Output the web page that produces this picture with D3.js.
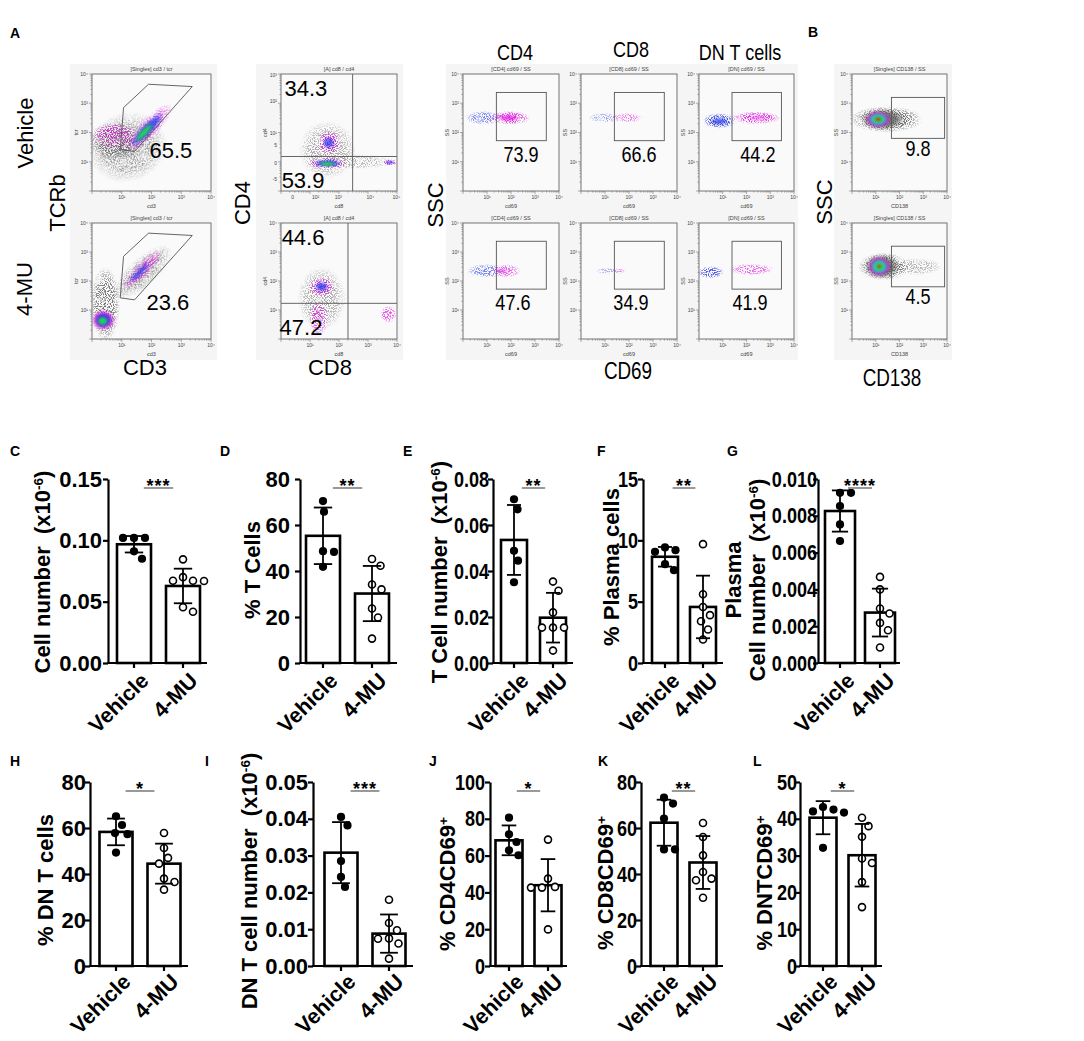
<!DOCTYPE html>
<html>
<head>
<meta charset="UTF-8">
<title>4-MU T cell and plasma cell figure</title>
<script src="https://cdn.jsdelivr.net/npm/d3@7"></script>
<style>
  body { margin: 0; background: #fff; }
  text { font-family: "Liberation Sans", Arial, sans-serif; }
</style>
</head>
<body>
<script>
// ---------- bar chart data (panels C-L) ----------
var groups = ["Vehicle", "4-MU"];
var panelIds = ["C", "D", "E", "F", "G", "H", "I", "J", "K", "L"];
var yMax = [0.15, 80, 0.08, 15, 0.010, 80, 0.05, 100, 80, 50];
var yTicks = [
  [0, 0.05, 0.10, 0.15],
  [0, 20, 40, 60, 80],
  [0, 0.02, 0.04, 0.06, 0.08],
  [0, 5, 10, 15],
  [0, 0.002, 0.004, 0.006, 0.008, 0.010],
  [0, 20, 40, 60, 80],
  [0, 0.01, 0.02, 0.03, 0.04, 0.05],
  [0, 20, 40, 60, 80, 100],
  [0, 20, 40, 60, 80],
  [0, 10, 20, 30, 40, 50]
];
var yDigits = [2, 0, 2, 0, 3, 0, 2, 0, 0, 0];
var yTitles = [
  "Cell number  (x10^{-6})",
  "% T Cells",
  "T Cell number  (x10^{-6})",
  "% Plasma cells",
  "Plasma|Cell number  (x10^{-6})",
  "% DN T cells",
  "DN T cell number  (x10^{-6})",
  "% CD4CD69^{+}",
  "% CD8CD69^{+}",
  "% DNTCD69^{+}"
];
var stars = ["***", "**", "**", "**", "****", "*", "***", "*", "**", "*"];

var vehMean = [0.0968, 55.3, 0.0535, 8.66, 0.00826, 58.3, 0.0308, 68.3, 62.3, 40.3];
var vehSd   = [0.0067, 12.3, 0.0152, 0.80, 0.00112, 5.8, 0.0083, 8.1, 10.0, 4.5];
var muMean  = [0.0628, 30.2, 0.0197, 4.57, 0.00274, 44.5, 0.0088, 43.9, 45.0, 30.1];
var muSd    = [0.0141, 12.0, 0.0108, 2.55, 0.00130, 8.7, 0.0052, 14.2, 11.5, 8.5];

var vehPts = [
  [0.102, 0.102, 0.102, 0.091, 0.085],
  [70.4, 65.8, 48.6, 48.3, 41.8],
  [0.0712, 0.0668, 0.0488, 0.0445, 0.0351],
  [9.42, 9.2, 9.06, 8.06, 7.57],
  [0.00925, 0.00925, 0.00853, 0.00753, 0.00663],
  [65.1, 61.3, 57.8, 57.3, 49.3],
  [0.0405, 0.0382, 0.0285, 0.0242, 0.0215],
  [80.6, 71.6, 67.4, 62.9, 60.2],
  [73.2, 70.6, 64.1, 50.7, 50.7],
  [43.2, 42.5, 42.0, 41.7, 32.1]
];
var muPts = [
  [0.0845, 0.070, 0.067, 0.067, 0.0668, 0.0454, 0.0418],
  [45.2, 42.3, 34.1, 32.0, 23.7, 19.8, 10.6],
  [0.0354, 0.0314, 0.022, 0.0154, 0.0154, 0.0154, 0.0054],
  [9.69, 5.61, 4.57, 3.9, 3.4, 2.73, 1.91],
  [0.00468, 0.0040, 0.00296, 0.00269, 0.00218, 0.00178, 0.00084],
  [57.8, 51.3, 47.0, 44.5, 38.0, 36.5, 33.2],
  [0.018, 0.0117, 0.0097, 0.0075, 0.0074, 0.0061, 0.002],
  [68.7, 47.5, 43.0, 42.6, 42.6, 19.9],
  [62.2, 56.1, 48.1, 40.9, 38.0, 37.3, 29.7],
  [40.3, 38.0, 35.1, 29.2, 28.0, 22.8, 16.0]
];

// ---------- flow cytometry data (panels A, B) ----------
var flowTitles = ["[Singles] cd3 / tcr", "[A] cd8 / cd4", "[CD4] cd69 / SS", "[CD8] cd69 / SS", "[DN] cd69 / SS", "[Singles] CD138 / SS"];
var flowXLab = ["cd3", "cd8", "cd69", "cd69", "cd69", "CD138"];
var flowYLab = ["tcr", "cd4", "SS", "SS", "SS", "SS"];
var vehPct = [["65.5"], ["34.3", "53.9"], ["73.9"], ["66.6"], ["44.2"], ["9.8"]];
var muPct  = [["23.6"], ["44.6", "47.2"], ["47.6"], ["34.9"], ["41.9"], ["4.5"]];
var logTickPos = [1, 2, 3, 4];
var logTickLab = ["10\u00b9", "10\u00b2", "10\u00b3", "10\u2074"];
var cd8TickPos = [0.4, 1.19, 1.98, 3.08, 3.98];
var cd8TickLab = ["0", "10\u00b2", "10\u00b3", "10\u2074", "10\u2075"];
var cd4TickPos = [3.97, 3.06, 1.98, 1.58, 0.95, 0.39];
var cd4TickLab = ["10\u00b3", "10\u00b2", "10\u00b9", "5", "0", "-5"];
var tcrGate = [[1.06, 2.85], [1.90, 3.65], [3.37, 3.57], [1.43, 1.35], [0.95, 1.42]];
var vehQuad = [2.47, 1.18];
var muQuad = [2.31, 1.23];
var cd69Gate = [1.39, 3.47, 1.72, 3.37];
var cd138Gate = [1.66, 3.90, 1.80, 3.20];
// clusters: [u, v, ru, rv, rotation, colour, opacity, speckled]
var vehClusters = [
  [[1.2, 1.5, 1.35, 1.2, 20, "g", 0.7, 1], [0.75, 1.7, 0.85, 0.68, 0, "g", 0.9, 1], [0.75, 1.9, 0.75, 0.45, 0, "m", 0.85, 1],
   [1.9, 2.15, 1.1, 0.34, 46, "m", 1, 1], [1.85, 2.1, 0.8, 0.2, 46, "b", 0.95, 0], [1.75, 2.0, 0.45, 0.12, 46, "n", 1, 0]],
  [[1.6, 1.4, 1.0, 1.0, 0, "g", 0.55, 1], [2.6, 1.0, 1.3, 0.25, 0, "g", 0.45, 1], [1.65, 1.65, 0.42, 0.4, 0, "m", 1, 1],
   [1.65, 1.65, 0.22, 0.22, 0, "b", 0.8, 0], [1.6, 0.95, 0.7, 0.2, 0, "m", 1, 1], [1.6, 0.95, 0.5, 0.13, 0, "b", 0.95, 0],
   [1.6, 0.93, 0.32, 0.08, 0, "n", 1, 0], [3.72, 0.98, 0.32, 0.11, 0, "m", 1, 1], [3.75, 0.98, 0.16, 0.06, 0, "b", 0.9, 0]],
  [[0.85, 2.5, 0.75, 0.24, 0, "lb", 1, 1], [1.95, 2.5, 0.85, 0.24, 0, "m", 1, 1], [1.9, 2.5, 0.45, 0.12, 0, "m", 0.8, 0]],
  [[0.95, 2.5, 0.65, 0.17, 0, "lb", 0.75, 1], [1.9, 2.5, 0.7, 0.17, 0, "lm", 0.85, 1]],
  [[0.85, 2.4, 0.7, 0.27, 0, "b", 1, 1], [0.85, 2.38, 0.4, 0.14, 0, "b", 0.75, 0], [2.4, 2.5, 1.05, 0.22, 0, "m", 1, 1],
   [2.5, 2.5, 0.5, 0.1, 0, "lm", 0.6, 0]],
  [[1.45, 2.45, 1.55, 0.45, 0, "g", 1, 1], [1.3, 2.45, 0.95, 0.36, 0, "g", 0.9, 0], [1.1, 2.45, 0.55, 0.3, 0, "m", 1, 0],
   [1.1, 2.45, 0.42, 0.23, 0, "c", 1, 0], [1.1, 2.45, 0.3, 0.16, 0, "n", 1, 0], [1.1, 2.45, 0.13, 0.08, 0, "r", 1, 0]]
];
var muClusters = [
  [[0.45, 1.2, 0.5, 1.3, 0, "g", 0.9, 1], [1.7, 2.3, 1.25, 0.5, 42, "g", 0.75, 1], [0.38, 0.65, 0.4, 0.36, 0, "m", 1, 0],
   [0.38, 0.65, 0.3, 0.27, 0, "b", 1, 0], [0.36, 0.62, 0.19, 0.16, 0, "n", 1, 0], [1.7, 2.4, 0.95, 0.25, 45, "m", 1, 1],
   [1.6, 2.3, 0.5, 0.12, 45, "b", 0.8, 0]],
  [[1.4, 1.4, 0.85, 1.1, 0, "g", 0.55, 1], [1.4, 1.8, 0.45, 0.35, 0, "m", 1, 1], [1.4, 1.8, 0.25, 0.18, 0, "b", 0.85, 0],
   [1.3, 0.7, 0.32, 0.6, 0, "m", 0.85, 1], [3.7, 0.85, 0.28, 0.3, 0, "m", 0.8, 1]],
  [[1.0, 2.35, 0.85, 0.24, 0, "lb", 1, 1], [1.8, 2.35, 0.6, 0.24, 0, "lm", 1, 1], [1.6, 2.35, 0.3, 0.1, 0, "m", 0.5, 0]],
  [[1.1, 2.35, 0.5, 0.1, 0, "lb", 0.65, 1], [1.6, 2.35, 0.25, 0.1, 0, "lm", 0.7, 1]],
  [[0.5, 2.3, 0.55, 0.22, 0, "b", 0.9, 1], [2.2, 2.4, 0.95, 0.2, 0, "lm", 1, 1]],
  [[1.35, 2.5, 1.1, 0.48, 0, "g", 1, 1], [1.25, 2.5, 0.75, 0.42, 0, "g", 0.9, 0], [2.7, 2.5, 1.1, 0.3, 0, "g", 0.45, 1],
   [1.15, 2.5, 0.5, 0.35, 0, "m", 1, 0], [1.15, 2.5, 0.38, 0.27, 0, "c", 1, 0], [1.15, 2.5, 0.27, 0.19, 0, "n", 1, 0],
   [1.15, 2.5, 0.1, 0.08, 0, "r", 1, 0]]
];

// ---------- layout ----------
var W = 1084, H = 1041;
var flowFrames = [[92, 119], [281, 116], [463, 96], [581, 96], [699, 95], [852, 95]];
var flowRows = [[74, 117], [223, 116]];
var flowBgs = [[70, 147], [256, 147], [446, 352], [834, 118]];
var vehPctPos = [[[2.65, 1.40]], [[0.86, 3.52], [0.76, 0.38]], [[2.42, 1.26]], [[2.42, 1.26]], [[2.48, 1.26]], [[2.78, 1.47]]];
var muPctPos  = [[[2.55, 1.28]], [[0.76, 3.52], [0.69, 0.41]], [[2.08, 1.28]], [[2.08, 1.28]], [[2.15, 1.28]], [[2.78, 1.48]]];
var pctNarrow = [false, false, true, true, true, true];
var NARROW = 0.82;

var barLayout = [
  { x0: 108, x1: 207, top: 479, bot: 663, cx: [134, 183], bw: 34, lx: 10, ly: 456, tx: [50], ty: 572, gap: 6, narrow: false, ld: 8 },
  { x0: 300, x1: 397, top: 479, bot: 663, cx: [323, 372], bw: 34, lx: 220, ly: 456, tx: [260], ty: 570, gap: 10, narrow: false, ld: 8 },
  { x0: 493, x1: 573, top: 479, bot: 663, cx: [514, 553], bw: 26, lx: 403, ly: 456, tx: [447], ty: 572, gap: 4, narrow: true, ld: 8 },
  { x0: 643, x1: 723, top: 479, bot: 663, cx: [665, 703], bw: 26, lx: 597, ly: 456, tx: [619], ty: 567, gap: 5, narrow: true, ld: 8 },
  { x0: 818, x1: 900, top: 479, bot: 663, cx: [840, 880], bw: 30, lx: 727, ly: 456, tx: [741, 765], ty: 580, gap: 1, narrow: true, ld: 8 },
  { x0: 90, x1: 188, top: 782, bot: 966, cx: [116, 164], bw: 33, lx: 10, ly: 766, tx: [53], ty: 880, gap: 4, narrow: false, ld: 6 },
  { x0: 313, x1: 413, top: 782, bot: 966, cx: [341, 389], bw: 33, lx: 205, ly: 766, tx: [257], ty: 881, gap: 5, narrow: false, ld: 6 },
  { x0: 490, x1: 567, top: 782, bot: 966, cx: [509, 548], bw: 27, lx: 429, ly: 766, tx: [455], ty: 884, gap: 5, narrow: true, ld: 6 },
  { x0: 641, x1: 723, top: 782, bot: 966, cx: [664, 703], bw: 27, lx: 598, ly: 766, tx: [613], ty: 883, gap: 4, narrow: true, ld: 6 },
  { x0: 800, x1: 882, top: 782, bot: 966, cx: [823, 862], bw: 27, lx: 753, ly: 766, tx: [772], ty: 883, gap: 3, narrow: true, ld: 6 }
];

var svg = d3.select("body").append("svg").attr("width", W).attr("height", H)
  .style("background", "#fff");
var defs = svg.append("defs");

// rich text: "^{..}" -> superscript
function addRich(sel, str) {
  str.split(/(\^\{[^}]*\})/).forEach(function(p) {
    if (!p) return;
    if (p[0] === "^") sel.append("tspan").attr("baseline-shift", "super").attr("font-size", "62%").text(p.slice(2, -1));
    else sel.append("tspan").text(p);
  });
}
// condensed look: squeeze the text horizontally
function squeeze(sel, f) {
  sel.each(function() {
    var w = this.getComputedTextLength();
    d3.select(this).attr("textLength", w * f).attr("lengthAdjust", "spacingAndGlyphs");
  });
}

// ---------- flow plot helpers ----------
var flowColor = { g: "#5e5e5e", m: "#e01ee0", b: "#2c3ce8", c: "#18c8d8", n: "#1fdc4e", r: "#e8221c", lb: "#6f7cf0", lm: "#ec5cec" };
Object.keys(flowColor).forEach(function(k) {
  var rg = defs.append("radialGradient").attr("id", "rg-" + k);
  rg.append("stop").attr("offset", "0%").attr("stop-color", flowColor[k]).attr("stop-opacity", 1);
  rg.append("stop").attr("offset", "60%").attr("stop-color", flowColor[k]).attr("stop-opacity", 0.85);
  rg.append("stop").attr("offset", "100%").attr("stop-color", flowColor[k]).attr("stop-opacity", 0);
});
var speck = defs.append("filter").attr("id", "speck").attr("filterUnits", "userSpaceOnUse")
  .attr("x", 0).attr("y", 0).attr("width", W).attr("height", 400);
speck.append("feTurbulence").attr("type", "fractalNoise").attr("baseFrequency", 0.95)
  .attr("numOctaves", 1).attr("seed", 7).attr("result", "noise");
speck.append("feColorMatrix").attr("in", "noise").attr("type", "matrix")
  .attr("values", "0 0 0 0 0  0 0 0 0 0  0 0 0 0 0  9 0 0 0 -4.3").attr("result", "mask");
speck.append("feComposite").attr("in", "SourceGraphic").attr("in2", "mask").attr("operator", "in");
var soft = defs.append("filter").attr("id", "soft");
soft.append("feGaussianBlur").attr("stdDeviation", 0.9);

// backgrounds
flowBgs.forEach(function(b) {
  svg.append("rect").attr("x", b[0]).attr("y", 64).attr("width", b[1]).attr("height", 296).attr("fill", "#f5f5f5");
});

function flowPlot(p, row) {
  var fx = flowFrames[p][0], fw = flowFrames[p][1];
  var fy = flowRows[row][0], fh = flowRows[row][1];
  var x = d3.scaleLinear().domain([0, 4]).range([fx, fx + fw]);
  var y = d3.scaleLinear().domain([0, 4]).range([fy + fh, fy]);
  var g = svg.append("g");
  var cid = "clip-" + p + "-" + row;
  defs.append("clipPath").attr("id", cid).append("rect").attr("x", fx).attr("y", fy).attr("width", fw).attr("height", fh);
  g.append("rect").attr("x", fx).attr("y", fy).attr("width", fw).attr("height", fh).attr("fill", "#fafafa");

  var clusters = row === 0 ? vehClusters[p] : muClusters[p];
  var cg = g.append("g").attr("clip-path", "url(#" + cid + ")");
  clusters.forEach(function(c) {
    var cx = x(c[0]), cy = y(c[1]);
    cg.append("ellipse").attr("cx", cx).attr("cy", cy)
      .attr("rx", x(c[2]) - x(0)).attr("ry", y(0) - y(c[3]))
      .attr("transform", "rotate(" + (-c[4]) + "," + cx + "," + cy + ")")
      .attr("fill", "url(#rg-" + c[5] + ")").attr("opacity", c[6])
      .attr("filter", c[7] ? "url(#speck)" : "url(#soft)");
  });

  // gates
  var gate = g.append("g").attr("fill", "none").attr("stroke", "#555").attr("stroke-width", 0.9);
  if (p === 0) {
    gate.append("path").attr("d", d3.line().x(function(d) { return x(d[0]); }).y(function(d) { return y(d[1]); })
      .curve(d3.curveLinearClosed)(tcrGate));
  } else if (p === 1) {
    var q = row === 0 ? vehQuad : muQuad;
    gate.append("line").attr("x1", x(q[0])).attr("x2", x(q[0])).attr("y1", y(0)).attr("y2", y(4));
    gate.append("line").attr("x1", x(0)).attr("x2", x(4)).attr("y1", y(q[1])).attr("y2", y(q[1]));
  } else {
    var r = p === 5 ? cd138Gate : cd69Gate;
    gate.append("rect").attr("x", x(r[0])).attr("y", y(r[3])).attr("width", x(r[1]) - x(r[0])).attr("height", y(r[2]) - y(r[3]));
  }

  // frame and tiny axes
  g.append("rect").attr("x", fx).attr("y", fy).attr("width", fw).attr("height", fh)
    .attr("fill", "none").attr("stroke", "#666").attr("stroke-width", 0.9);
  var minor = [];
  d3.range(0, 4).forEach(function(dd) { d3.range(1, 10).forEach(function(k) { minor.push([dd + Math.log10(k), k === 1]); }); });
  minor.push([4, true]);
  var tk = g.append("g").attr("stroke", "#777").attr("stroke-width", 0.6);
  minor.forEach(function(m) {
    var len = m[1] ? 3 : 1.6;
    tk.append("line").attr("x1", x(m[0])).attr("x2", x(m[0])).attr("y1", fy + fh).attr("y2", fy + fh + len);
    tk.append("line").attr("y1", y(m[0])).attr("y2", y(m[0])).attr("x1", fx).attr("x2", fx - len);
  });
  var xpos = logTickPos, xlab = logTickLab, ypos = logTickPos, ylab = logTickLab;
  if (p === 1 && row === 0) { xpos = cd8TickPos; xlab = cd8TickLab; ypos = cd4TickPos; ylab = cd4TickLab; }
  var tl = g.append("g").attr("font-size", 5).attr("fill", "#444");
  xpos.forEach(function(v, i) {
    tl.append("text").attr("x", x(v)).attr("y", fy + fh + 8).attr("text-anchor", "middle").text(xlab[i]);
  });
  ypos.forEach(function(v, i) {
    tl.append("text").attr("x", fx - 4).attr("y", y(v) + 1.8).attr("text-anchor", "end").text(ylab[i]);
  });
  tl.append("text").attr("x", fx + fw / 2).attr("y", fy - 3).attr("text-anchor", "middle").attr("font-size", 5.5).text(flowTitles[p]);
  tl.append("text").attr("x", fx + fw / 2).attr("y", fy + fh + 17).attr("text-anchor", "middle").attr("font-size", 5.5).text(flowXLab[p]);
  tl.append("text").attr("transform", "translate(" + (fx - 14) + "," + (fy + fh / 2) + ") rotate(-90)")
    .attr("text-anchor", "middle").attr("font-size", 5.5).text(flowYLab[p]);

  // percentages
  var pct = row === 0 ? vehPct[p] : muPct[p];
  var pos = row === 0 ? vehPctPos[p] : muPctPos[p];
  pct.forEach(function(t, i) {
    var tt = g.append("text")
      .attr("x", x(pos[i][0])).attr("y", y(pos[i][1])).attr("dy", "0.36em")
      .attr("text-anchor", "middle").attr("font-size", 22).attr("fill", "#000").text(t);
    if (pctNarrow[p]) squeeze(tt, NARROW);
  });
}
d3.range(0, 6).forEach(function(p) { flowPlot(p, 0); flowPlot(p, 1); });

// labels
function label(txt, x, y, opts) {
  opts = opts || {};
  var t = svg.append("text").attr("x", x).attr("y", y).attr("font-size", opts.size || 22)
    .attr("text-anchor", opts.anchor || "middle").attr("font-weight", opts.bold ? "bold" : null)
    .style("white-space", "pre");
  if (opts.rot) t.attr("transform", "rotate(" + opts.rot + "," + x + "," + y + ")");
  addRich(t, txt);
  if (opts.narrow) squeeze(t, NARROW);
  return t;
}
label("A", 10, 38, { size: 14, bold: true, anchor: "start" });
label("B", 808, 37, { size: 14, bold: true, anchor: "start" });
label("Vehicle", 33, 133, { rot: -90 });
label("4-MU", 32, 289, { rot: -90 });
label("TCRb", 65, 203, { rot: -90 });
label("CD4", 250, 203, { rot: -90 });
label("SSC", 443, 205, { rot: -90 });
label("SSC", 832, 202, { rot: -90 });
label("CD3", 145, 375);
label("CD8", 330, 375);
label("CD69", 628, 379, { narrow: true, size: 23 });
label("CD138", 892, 386, { narrow: true, size: 23 });
label("CD4", 515, 60, { narrow: true, size: 22 });
label("CD8", 631, 57, { narrow: true, size: 22 });
label("DN T cells", 740, 60, { narrow: true, size: 22 });

// ---------- bar panels ----------
function swarm(vals, y, cx, r) {
  var placed = [];
  return vals.map(function(v) {
    var py = y(v), off = 0, step = 0.5, k = 0;
    while (true) {
      var cand = k === 0 ? 0 : (k % 2 ? 1 : -1) * Math.ceil(k / 2) * step;
      var ok = placed.every(function(q) { return Math.hypot(q[0] - cand, q[1] - py) >= 2 * r + 2.4; });
      if (ok) { off = cand; break; }
      k++;
    }
    placed.push([off, py]);
    return [cx + off, py];
  });
}

function barPanel(i) {
  var L = barLayout[i];
  var g = svg.append("g");
  var y = d3.scaleLinear().domain([0, yMax[i]]).range([L.bot, L.top]);
  var x = d3.scalePoint().domain(groups).range(L.cx);

  label(panelIds[i], L.lx, L.ly, { size: 14, bold: true, anchor: "start" });

  // bars
  var means = [vehMean[i], muMean[i]], sds = [vehSd[i], muSd[i]];
  g.selectAll(".bar").data(groups).enter().append("rect")
    .attr("x", function(d) { return x(d) - L.bw / 2; })
    .attr("y", function(d, j) { return y(means[j]); })
    .attr("width", L.bw)
    .attr("height", function(d, j) { return y(0) - y(means[j]); })
    .attr("fill", "#fff").attr("stroke", "#000").attr("stroke-width", 2.6);

  // dots
  var r = 4.1;
  [vehPts[i], muPts[i]].forEach(function(pts, j) {
    var pos = swarm(pts, y, x(groups[j]), r);
    g.selectAll(null).data(pos).enter().append("circle")
      .attr("cx", function(d) { return d[0]; }).attr("cy", function(d) { return d[1]; })
      .attr("r", j === 0 ? r : r - 0.6)
      .attr("fill", j === 0 ? "#000" : "#fff").attr("stroke", "#000").attr("stroke-width", j === 0 ? 0 : 1.6);
  });

  // error bars (mean +/- SD)
  groups.forEach(function(gr, j) {
    var cx = x(gr), cap = L.bw * 0.27;
    var e = g.append("g").attr("stroke", "#000").attr("stroke-width", 1.8);
    e.append("line").attr("x1", cx).attr("x2", cx).attr("y1", y(means[j] - sds[j])).attr("y2", y(means[j] + sds[j]));
    [means[j] - sds[j], means[j] + sds[j]].forEach(function(v) {
      e.append("line").attr("x1", cx - cap).attr("x2", cx + cap).attr("y1", y(v)).attr("y2", y(v));
    });
  });

  // y axis
  var ax = g.append("g").attr("transform", "translate(" + L.x0 + ",0)")
    .call(d3.axisLeft(y).tickValues(yTicks[i]).tickFormat(d3.format("." + yDigits[i] + "f"))
      .tickSize(5).tickSizeOuter(0).tickPadding(L.gap - 5));
  ax.select(".domain").attr("stroke-width", 2.2);
  ax.selectAll(".tick line").attr("stroke-width", 2.2);
  var tt = ax.selectAll(".tick text").attr("font-size", 22).attr("font-weight", "bold")
    .attr("font-family", "\"Liberation Sans\", Arial, sans-serif").attr("fill", "#000");
  if (L.narrow) squeeze(tt, NARROW);

  // x axis
  g.append("line").attr("x1", L.x0 - 1).attr("x2", L.x1).attr("y1", L.bot).attr("y2", L.bot)
    .attr("stroke", "#000").attr("stroke-width", 2.2);
  groups.forEach(function(gr) {
    g.append("line").attr("x1", x(gr)).attr("x2", x(gr)).attr("y1", L.bot).attr("y2", L.bot + 5)
      .attr("stroke", "#000").attr("stroke-width", 2.2);
    g.append("text").attr("transform", "translate(" + (x(gr) + 5) + "," + (L.bot + L.ld) + ") rotate(-45)")
      .attr("text-anchor", "end").attr("dy", "0.72em").attr("font-size", 21.5).attr("font-weight", "bold").text(gr);
  });

  // y title
  yTitles[i].split("|").forEach(function(line, k) {
    label(line, L.tx[k], L.ty, { rot: -90, bold: true });
  });

  // significance
  var mid = (L.cx[0] + L.cx[1]) / 2, half = (L.cx[1] - L.cx[0]) * 0.3;
  g.append("line").attr("x1", mid - half).attr("x2", mid + half).attr("y1", L.top + 9).attr("y2", L.top + 9)
    .attr("stroke", "#999").attr("stroke-width", 2);
  g.append("text").attr("x", mid).attr("y", L.top + 13).attr("text-anchor", "middle")
    .attr("font-size", 18).attr("font-weight", "bold").attr("letter-spacing", 1).text(stars[i]);
}
d3.range(0, panelIds.length).forEach(barPanel);
</script>
</body>
</html>
